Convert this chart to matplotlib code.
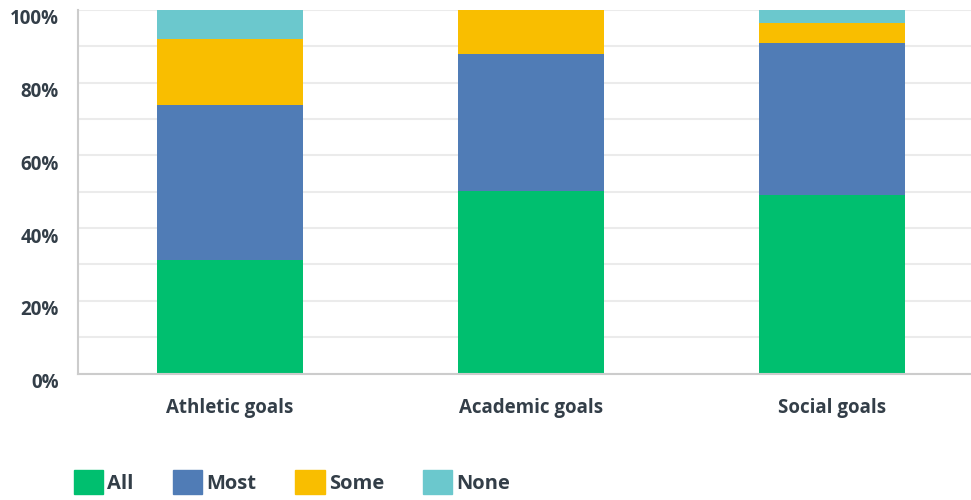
import numpy as np
import matplotlib.pyplot as plt
from matplotlib.patches import Patch
from matplotlib.transforms import ScaledTranslation

plt.rcParams['font.family'] = ['Open Sans', 'DejaVu Sans']

categories = ["Athletic goals", "Academic goals", "Social goals"]
series_names = ["All", "Most", "Some", "None"]
all_vals = [31.2, 50.1, 49.1]
most_vals = [42.6, 37.8, 41.8]
some_vals = [18.2, 12.1, 5.5]
none_vals = [8.0, 0.0, 3.6]
colors = ["#00BF6F", "#507CB6", "#F9BE00", "#6BC8CD"]
yticks = [0, 20, 40, 60, 80, 100]
ytick_labels = ["0%", "20%", "40%", "60%", "80%", "100%"]

text_color = "#333E48"
fs = 13.5

fig = plt.figure(figsize=(9.71, 5.0), dpi=100)
ax = fig.add_axes([78 / 971, 1 - 373.5 / 500, (971 - 78) / 971, 363.5 / 500])

x = np.arange(len(categories))
bottom = np.zeros(len(categories))
for vals, c in zip([all_vals, most_vals, some_vals, none_vals], colors):
    ax.bar(x, vals, width=0.485, bottom=bottom, color=c, zorder=3)
    bottom += np.array(vals)

ax.set_xlim(-0.505, 2.462)
ax.set_ylim(0, 100)
ax.set_yticks(yticks)
ax.set_yticks(np.arange(10, 100, 20), minor=True)
ax.yaxis.grid(True, which="both", color="#EBEBEB", linewidth=1.5, zorder=0)
ax.set_yticklabels(ytick_labels, fontsize=fs, color=text_color, fontweight="bold")
ax.tick_params(axis="y", which="both", length=0, pad=14)
for lbl in ax.get_yticklabels():
    lbl.set_transform(lbl.get_transform() + ScaledTranslation(0, -7 / 100, fig.dpi_scale_trans))

ax.set_xticks(x)
ax.set_xticklabels(categories, fontsize=fs, color=text_color, fontweight="bold")
ax.tick_params(axis="x", length=0, pad=18)

for s in ["top", "right"]:
    ax.spines[s].set_visible(False)
for s in ["left", "bottom"]:
    ax.spines[s].set_color("#CCCCCC")
    ax.spines[s].set_linewidth(1.5)
ax.spines["bottom"].set_zorder(4)

handles = [Patch(facecolor=c, edgecolor=c) for c in colors]
fig.legend(handles, series_names, loc="center left",
           bbox_to_anchor=(74 / 971, 1 - 482 / 500), ncol=4, frameon=False,
           handlelength=1.45, handleheight=1.45,
           handletextpad=0.2, columnspacing=1.95,
           borderpad=0, borderaxespad=0,
           prop={"weight": "bold", "size": 14.5})
for t in fig.legends[0].get_texts():
    t.set_color(text_color)

fig.savefig("out.png", dpi=100)
